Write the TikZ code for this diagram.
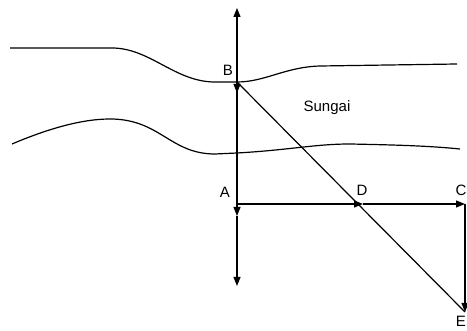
\documentclass[tikz,border=0pt]{standalone}
\usepackage{fontspec}
\setmainfont{Liberation Sans}
\usetikzlibrary{arrows.meta}

\begin{document}
\begin{tikzpicture}[
  x=1pt, y=-1pt,
  font=\fontsize{15}{17}\selectfont,
  bank/.style={line width=1.2pt},
  vec/.style={line width=1.2pt, -{Triangle[length=9pt, width=7pt]}},
  plain/.style={line width=1.2pt},
  lbl/.style={inner sep=0pt},
]
\useasboundingbox (0,0) rectangle (467,331);

% river banks
\draw[bank] (10,48) -- (112,48)
  .. controls (150,48) and (175,82) .. (215,82) -- (237,82)
  .. controls (265,82) and (285,67) .. (320,66) -- (457,64);
\draw[bank] (12,144) .. controls (45,130) and (80,119) .. (110,119)
  .. controls (160,119) and (170,154) .. (215,154) -- (237,153)
  .. controls (290,150) and (315,144) .. (350,144)
  .. controls (400,145) and (430,146) .. (460,149);

% points
\coordinate (top) at (237,8);
\coordinate (B) at (237,82);
\coordinate (Bd) at (237,93);
\coordinate (A) at (237,204);
\coordinate (Ad) at (237,216);
\coordinate (bot) at (237,286);
\coordinate (D) at (363,204);
\coordinate (C) at (465,204);
\coordinate (E) at (465,312);

% vectors
\draw[vec] (A) -- (top);
\draw[vec] (B) -- (Bd);
\draw[plain] (Bd) -- (A);
\draw[vec] (A) -- (Ad);
\draw[vec] (Ad) -- (bot);
\draw[vec] (A) -- (D);
\draw[vec] (D) -- (C);
\draw[vec] (C) -- (E);
\draw[plain] (B) -- (E);

% labels
\node[lbl] (labB) at (228,70) {B};
\node[lbl] (labA) at (225,192) {A};
\node[lbl] (labD) at (362,190) {D};
\node[lbl] (labC) at (461,190) {C};
\node[lbl] (labE) at (461,321) {E};
\node[lbl] (sungai) at (327,108) {Sungai};
\end{tikzpicture}
\end{document}
